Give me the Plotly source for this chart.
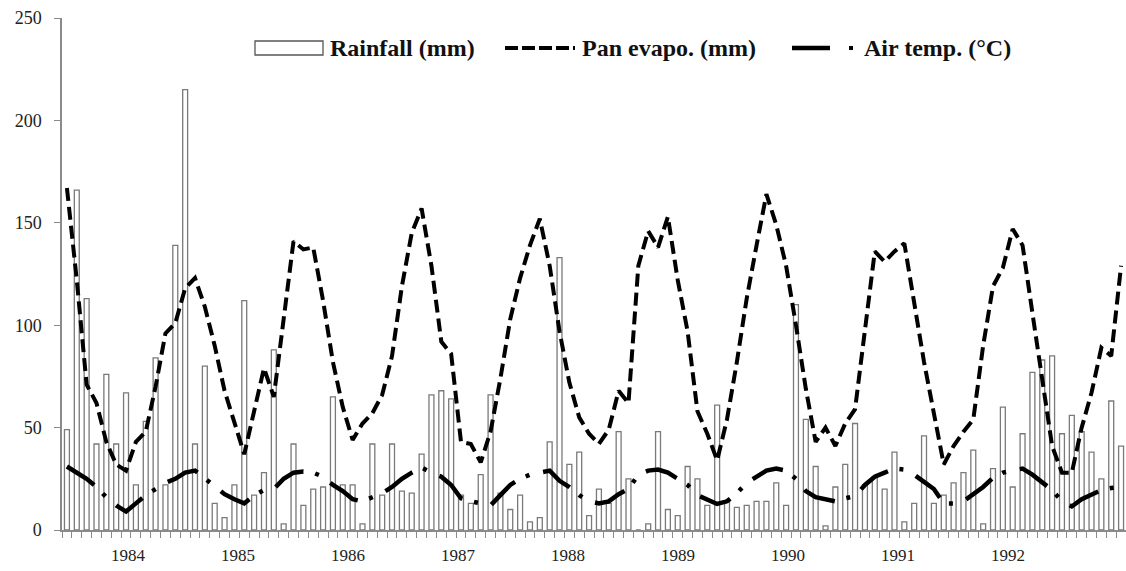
import plotly.graph_objects as go

# ---------------- data (monthly, Jan 1984 - Dec 1992) ----------------
year_labels = ["1984", "1985", "1986", "1987", "1988", "1989", "1990", "1991", "1992"]

rainfall_mm = [
    49, 166, 113, 42, 76, 42, 67, 22, 53, 84, 22, 139,
    215, 42, 80, 13, 6, 22, 112, 17, 28, 88, 3, 42,
    12, 20, 21, 65, 22, 22, 3, 42, 17, 42, 19, 18,
    37, 66, 68, 64, 17, 13, 27, 66, 18, 10, 17, 4,
    6, 43, 133, 32, 38, 7, 20, 13, 48, 25, 0, 3,
    48, 10, 7, 31, 25, 12, 61, 14, 11, 12, 14, 14,
    23, 12, 110, 54, 31, 2, 21, 32, 52, 22, 26, 20,
    38, 4, 13, 46, 13, 17, 23, 28, 39, 3, 30, 60,
    21, 47, 77, 83, 85, 47, 56, 48, 38, 25, 63, 41,
]

pan_evap_mm = [
    167, 122, 71, 62, 43, 32, 29, 43, 48, 70, 96, 101,
    118, 123, 109, 90, 68, 52, 37, 58, 79, 65, 104, 141,
    137, 138, 112, 82, 60, 44, 52, 57, 66, 85, 119, 145,
    157, 129, 92, 86, 43, 42, 33, 48, 74, 103, 123, 139,
    152, 129, 97, 72, 55, 47, 42, 49, 68, 62, 129, 146,
    138, 153, 122, 97, 58, 47, 34, 54, 82, 113, 139, 164,
    149, 129, 100, 69, 43, 50, 41, 52, 59, 97, 136, 131,
    136, 140, 111, 82, 57, 32, 41, 48, 54, 90, 119, 128,
    147, 139, 106, 72, 41, 28, 28, 50, 67, 89, 85, 129,
]

air_temp_c = [
    31, 28, 25, 21, 16, 12, 9, 13, 17, 20, 23, 25,
    28, 29, 25, 21, 17.5, 15, 13, 17, 19.5, 20, 25, 28,
    28.5, 28, 26, 22, 19, 15, 14, 16, 18, 21, 25, 28,
    30.5, 28, 26, 22, 15.5, 14, 13, 12, 17, 22, 25, 27,
    28, 29, 24, 21, 17, 14, 13, 14, 17.5, 20, 27, 29,
    29.5, 28, 25, 22, 17, 15, 12.7, 14, 18, 23, 26, 29,
    30, 29, 25, 19, 16, 15, 14, 15.5, 16.5, 22, 26, 28,
    30, 29.5, 27, 23.5, 20, 13, 13, 14, 17.5, 21, 25.5, 28,
    29, 30, 27, 23.5, 19.5, 14, 11.5, 15, 17.5, 19.5, 20.5, 21,
]

months = list(range(len(rainfall_mm)))

# ---------------- figure geometry ----------------
W, H = 1126, 571
ML, MR, MT, MB = 62, 0, 18, 41
PW, PH = W - ML - MR, H - MT - MB
CAT_W = PW / len(months)

def px(x):
    return (x - ML) / PW

def py(y):
    return (H - MB - y) / PH

def pix_to_cat(x):
    return (x - ML) / CAT_W - 0.5

# the year labels of the original sit on an even 110 px pitch from x=128
year_ticks = [pix_to_cat(128 + 110 * k) for k in range(len(year_labels))]

SERIF = "Liberation Serif, Times New Roman, serif"
AXIS_GRAY = "#8a8a8a"

fig = go.Figure()
fig.add_trace(go.Bar(
    x=months, y=rainfall_mm, width=0.5,
    marker=dict(color="white", line=dict(color="#7a7a7a", width=1.3)),
    showlegend=False, name="Rainfall (mm)",
))
fig.add_trace(go.Scatter(
    x=months, y=pan_evap_mm, mode="lines",
    line=dict(color="black", width=4, dash="13px,6px"),
    showlegend=False, name="Pan evapo. (mm)",
))
fig.add_trace(go.Scatter(
    x=months, y=air_temp_c, mode="lines",
    line=dict(color="black", width=4.5, dash="33px,12px,4px,14px"),
    showlegend=False, name="Air temp. (°C)",
))

# ---------------- manual legend ----------------
LEG_Y = 48
shapes = [
    dict(type="rect", xref="paper", yref="paper",
         x0=px(255), x1=px(323), y0=py(55), y1=py(41),
         line=dict(color="#555555", width=1.3), fillcolor="white"),
    dict(type="line", xref="paper", yref="paper",
         x0=px(505), x1=px(575), y0=py(LEG_Y), y1=py(LEG_Y),
         line=dict(color="black", width=4, dash="13px,4px")),
    dict(type="line", xref="paper", yref="paper",
         x0=px(792), x1=px(830), y0=py(LEG_Y), y1=py(LEG_Y),
         line=dict(color="black", width=4.5)),
    dict(type="line", xref="paper", yref="paper",
         x0=px(849), x1=px(853), y0=py(LEG_Y), y1=py(LEG_Y),
         line=dict(color="black", width=4)),
]
leg_font = dict(family=SERIF, size=24, color="#111111")
annotations = [
    dict(text="<b>Rainfall (mm)</b>", x=px(328), y=py(LEG_Y), xref="paper", yref="paper",
         xanchor="left", yanchor="middle", showarrow=False, font=leg_font),
    dict(text="<b>Pan evapo. (mm)</b>", x=px(580), y=py(LEG_Y), xref="paper", yref="paper",
         xanchor="left", yanchor="middle", showarrow=False, font=leg_font),
    dict(text="<b>Air temp. (°C)</b>", x=px(862), y=py(LEG_Y), xref="paper", yref="paper",
         xanchor="left", yanchor="middle", showarrow=False, font=leg_font),
]

fig.update_layout(
    width=W, height=H,
    margin=dict(l=ML, r=MR, t=MT, b=MB, pad=0),
    paper_bgcolor="white", plot_bgcolor="white",
    showlegend=False,
    shapes=shapes,
    annotations=annotations,
    xaxis=dict(
        range=[-0.5, len(months) - 0.5],
        tickmode="array", tickvals=year_ticks, ticktext=year_labels,
        ticks="", showgrid=False, zeroline=False,
        showline=True, linecolor=AXIS_GRAY, linewidth=1.5,
        tickfont=dict(family=SERIF, size=17, color="#222222"),
        ticklabelstandoff=9,
        minor=dict(tickmode="linear", tick0=-0.5, dtick=1, ticks="outside",
                   ticklen=6, tickcolor=AXIS_GRAY, tickwidth=1, showgrid=False),
    ),
    yaxis=dict(
        range=[0, 250], tickmode="array", tickvals=[0, 50, 100, 150, 200, 250],
        ticks="outside", ticklen=6, tickcolor=AXIS_GRAY, tickwidth=1,
        showgrid=False, zeroline=False,
        showline=True, linecolor=AXIS_GRAY, linewidth=1.5,
        tickfont=dict(family=SERIF, size=18, color="#222222"),
        ticklabelstandoff=9,
    ),
)

fig.write_html("out.html")
